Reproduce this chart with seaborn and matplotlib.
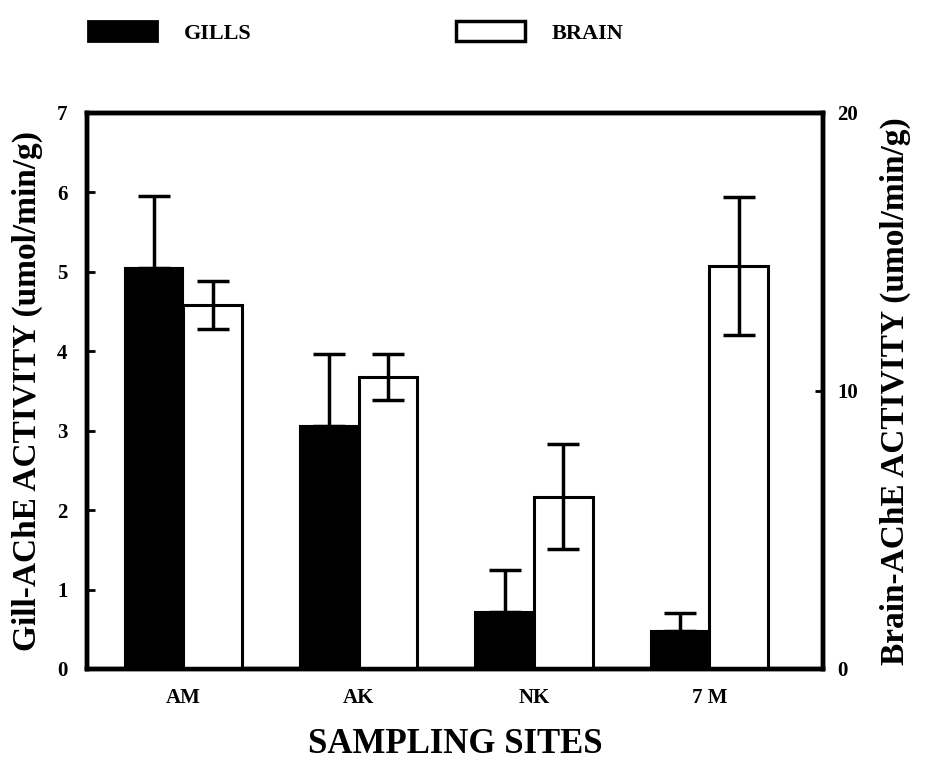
import matplotlib
matplotlib.use("Agg")
import matplotlib.pyplot as plt
import seaborn as sns
import pandas as pd
import numpy as np
from matplotlib.patches import Patch

# ---- data ----
sites = ["AM", "AK", "NK", "7 M"]
gill = [5.05, 3.06, 0.72, 0.48]
gill_err = [0.90, 0.91, 0.52, 0.23]
brain = [13.1, 10.5, 6.2, 14.5]
brain_err = [0.86, 0.84, 1.90, 2.48]
tissues = ["GILLS", "BRAIN"]
left_ticks = [0, 1, 2, 3, 4, 5, 6, 7]
right_ticks = [0, 10, 20]

sns.set_theme(style="white")
plt.rcParams["font.family"] = ["Liberation Serif", "DejaVu Serif"]
plt.rcParams["font.weight"] = "bold"
plt.rcParams["text.color"] = "black"
plt.rcParams["axes.labelcolor"] = "black"
plt.rcParams["xtick.color"] = "black"
plt.rcParams["ytick.color"] = "black"

# long tables: one for each axis (other tissue NaN so dodge slots stay)
df_gill = pd.DataFrame({
    "site": sites * 2,
    "tissue": ["GILLS"] * 4 + ["BRAIN"] * 4,
    "value": gill + [np.nan] * 4,
})
df_brain = pd.DataFrame({
    "site": sites * 2,
    "tissue": ["GILLS"] * 4 + ["BRAIN"] * 4,
    "value": [np.nan] * 4 + brain,
})

fig = plt.figure(figsize=(9.26, 7.63), dpi=100)
ax1 = fig.add_axes([0.094, 0.1232, 0.795, 0.7288])
ax2 = ax1.twinx()

sns.barplot(data=df_gill, x="site", y="value", hue="tissue", hue_order=tissues,
            order=sites, palette={"GILLS": "black", "BRAIN": "white"},
            width=0.67, errorbar=None, ax=ax1, legend=False,
            edgecolor="black", linewidth=1.5)
sns.barplot(data=df_brain, x="site", y="value", hue="tissue", hue_order=tissues,
            order=sites, palette={"GILLS": "black", "BRAIN": "white"},
            width=0.67, errorbar=None, ax=ax2, legend=False,
            edgecolor="black", linewidth=2.2)

def centers(ax):
    out = []
    for p in ax.patches:
        h = p.get_height()
        if np.isfinite(h) and h > 0:
            out.append((p.get_x() + p.get_width() / 2, h))
    out.sort()
    return out

gc = centers(ax1)
bc = centers(ax2)
gx = [c for c, _ in gc]
gy = [h for _, h in gc]
bx = [c for c, _ in bc]
by = [h for _, h in bc]

ax1.errorbar(gx, gy, yerr=[np.zeros(len(gill_err)), gill_err], fmt="none",
             ecolor="black", elinewidth=2.5, capsize=11.5, capthick=2.5, zorder=5)
ax2.errorbar(bx, by, yerr=brain_err, fmt="none",
             ecolor="black", elinewidth=2.5, capsize=11.5, capthick=2.5, zorder=5)

ax1.set_xlim(-0.55, 3.65)
ax1.set_ylim(0, 7)
ax2.set_ylim(0, 20)
ax1.set_yticks(left_ticks)
ax2.set_yticks(right_ticks)

for ax in (ax1, ax2):
    for s in ax.spines.values():
        s.set_linewidth(3.2)
        s.set_color("black")
    ax.grid(False)

ax1.tick_params(axis="y", direction="in", length=6, width=2, labelsize=15, pad=14, left=True)
ax2.tick_params(axis="y", direction="in", length=6, width=2, labelsize=15, pad=10, right=True)
ax1.tick_params(axis="x", length=0, labelsize=15, pad=14)
for lab in ax1.get_yticklabels() + ax2.get_yticklabels() + ax1.get_xticklabels():
    lab.set_fontweight("bold")

ax1.set_xlabel("SAMPLING SITES", fontsize=25, fontweight="bold", labelpad=14)
ax1.set_ylabel("Gill-AChE ACTIVITY (umol/min/g)", fontsize=24, fontweight="bold", labelpad=10)
ax2.set_ylabel("Brain-AChE ACTIVITY (umol/min/g)", fontsize=24, fontweight="bold", labelpad=16)

handles = [Patch(facecolor="black", edgecolor="black", linewidth=2),
           Patch(facecolor="white", edgecolor="black", linewidth=2.5)]
fig.legend(handles, tissues, loc="upper left", bbox_to_anchor=(88 / 926, 1 - 21 / 763),
           ncol=2, frameon=False, borderpad=0, borderaxespad=0,
           handlelength=3.1, handleheight=1.0, handletextpad=1.2, columnspacing=9.2,
           prop={"family": "Liberation Serif", "weight": "bold", "size": 16})

fig.savefig("out.png", dpi=100)
